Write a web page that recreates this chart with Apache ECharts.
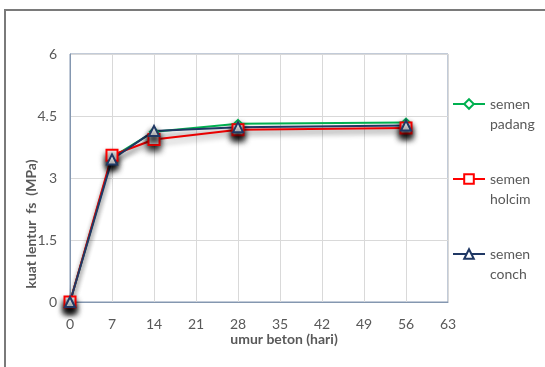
<!DOCTYPE html>
<html>
<head>
<meta charset="utf-8">
<script src="https://cdn.jsdelivr.net/npm/echarts@6/dist/echarts.min.js"></script>
<style>
  html, body { margin: 0; padding: 0; background: #fff; }
  #chart { width: 545px; height: 367px; }
</style>
</head>
<body>
<div id="chart"></div>
<script>
// Umur beton (hari) dan kuat lentur (MPa) untuk tiap jenis semen
const days = [0, 7, 14, 28, 56];
const semenPadang = [0, 3.50, 4.12, 4.31, 4.34];
const semenHolcim = [0, 3.55, 3.93, 4.17, 4.21];
const semenConch  = [0, 3.45, 4.14, 4.23, 4.27];
const seriesNames = ['semen padang', 'semen holcim', 'semen conch'];
const xTicks = [0, 7, 14, 21, 28, 35, 42, 49, 56, 63];
const yTicks = [0, 1.5, 3, 4.5, 6];

const FONT = 'Lato, "Open Sans", sans-serif';
const TEXT = '#595959';

function pairs(vals) {
  return days.map((d, i) => [d, vals[i]]);
}

const markerShadow = {
  shadowColor: 'rgba(0,0,0,0.85)',
  shadowBlur: 6,
  shadowOffsetY: 5
};
const lineShadow = {
  shadowColor: 'rgba(0,0,0,0.3)',
  shadowBlur: 5,
  shadowOffsetY: 5
};

function makeSeries(name, vals, color, symbol, size) {
  return {
    name: name,
    type: 'line',
    data: pairs(vals),
    symbol: symbol,
    symbolSize: size,
    showAllSymbol: true,
    lineStyle: Object.assign({ color: color, width: 2 }, lineShadow),
    itemStyle: Object.assign({ color: '#fff', borderColor: color, borderWidth: 2 }, markerShadow),
    emphasis: { disabled: true },
    animation: false
  };
}

// Legend label: blank first line so that "semen" sits level with the icon
function legendFor(name, top) {
  return {
    data: [name],
    left: 452,
    top: top,
    orient: 'vertical',
    padding: 0,
    itemWidth: 32,
    itemHeight: 12,
    itemGap: 5,
    selectedMode: false,
    formatter: n => '\u00a0\n' + n.replace(' ', '\n'),
    textStyle: {
      fontFamily: FONT,
      fontSize: 14,
      color: TEXT,
      lineHeight: 20
    }
  };
}

const chart = echarts.init(document.getElementById('chart'), null, { renderer: 'canvas' });

chart.setOption({
  backgroundColor: '#fff',
  animation: false,
  graphic: [{
    type: 'polyline',
    shape: { points: [[5, 367], [5, 10], [545, 10]] },
    style: { stroke: '#7a7a7a', lineWidth: 2, fill: null },
    silent: true
  }],
  legend: [
    legendFor(seriesNames[0], 74),
    legendFor(seriesNames[1], 149),
    legendFor(seriesNames[2], 224)
  ],
  grid: {
    left: 70,
    right: 97,
    top: 54,
    bottom: 65,
    show: true,
    borderColor: '#8497b0',
    borderWidth: 1
  },
  xAxis: {
    type: 'value',
    min: 0,
    max: 63,
    interval: 7,
    name: 'umur beton (hari)',
    nameLocation: 'middle',
    nameGap: 30,
    nameMoveOverlap: false,
    nameTextStyle: {
      fontFamily: FONT, fontSize: 14, fontWeight: 'bold', color: TEXT,
      padding: [0, 0, 0, 50]
    },
    axisLine: { show: true, lineStyle: { color: '#8497b0', width: 1 } },
    axisTick: { show: false },
    axisLabel: {
      fontFamily: FONT, fontSize: 14, color: TEXT, margin: 15,
      formatter: v => (xTicks.includes(v) ? String(v) : '')
    },
    splitLine: { show: true, lineStyle: { color: '#d9d9d9', width: 1 } }
  },
  yAxis: {
    type: 'value',
    min: 0,
    max: 6,
    interval: 1.5,
    name: 'kuat lentur  fs  (MPa)',
    nameLocation: 'middle',
    nameGap: 32,
    nameMoveOverlap: false,
    nameTextStyle: {
      fontFamily: FONT, fontSize: 14, fontWeight: 'bold', color: TEXT,
      padding: [0, 92, 0, 0]
    },
    axisLine: { show: true, lineStyle: { color: '#8497b0', width: 1 } },
    axisTick: { show: false },
    axisLabel: {
      fontFamily: FONT, fontSize: 14, color: TEXT, margin: 13,
      formatter: v => (yTicks.includes(v) ? String(v) : '')
    },
    splitLine: { show: true, lineStyle: { color: '#d9d9d9', width: 1 } }
  },
  series: [
    makeSeries(seriesNames[0], semenPadang, '#00b050', 'diamond', 8),
    makeSeries(seriesNames[1], semenHolcim, '#ff0000', 'rect', 11),
    makeSeries(seriesNames[2], semenConch, '#203864', 'triangle', 10)
  ]
});
</script>
</body>
</html>
